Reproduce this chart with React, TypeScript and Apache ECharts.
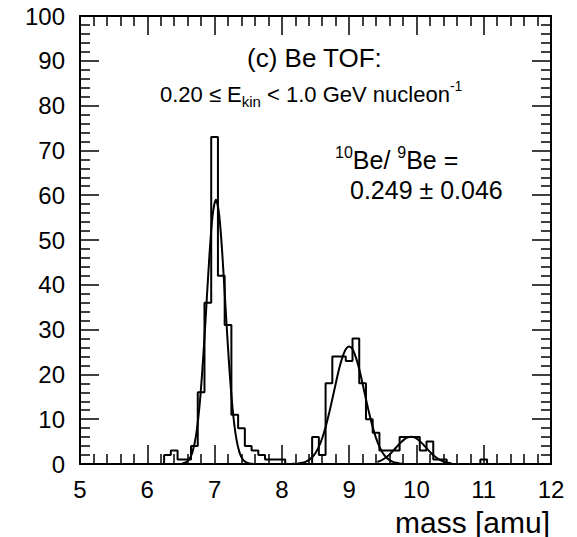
import React, { useEffect, useRef } from "react";
import * as echarts from "echarts";

// ---------------- data ----------------
const binWidth = 0.1;
const binCenters = [
  6.2, 6.3, 6.4, 6.5, 6.6, 6.7, 6.8, 6.9, 7.0, 7.1,
  7.2, 7.3, 7.4, 7.5, 7.6, 7.7, 7.8, 7.9, 8.0, 8.1,
  8.2, 8.3, 8.4, 8.5, 8.6, 8.7, 8.8, 8.9, 9.0, 9.1,
  9.2, 9.3, 9.4, 9.5, 9.6, 9.7, 9.8, 9.9, 10.0, 10.1,
  10.2, 10.3, 10.4, 10.5, 10.6, 10.7, 10.8, 10.9, 11.0, 11.1,
];
const counts = [
  0, 2, 3, 1, 1, 4, 16, 36, 73, 42,
  31, 11, 8, 4, 3, 2, 1, 1, 1, 0,
  0, 0, 0, 6, 2, 18, 24, 24, 23, 28,
  18, 10, 7, 3, 3, 3, 6, 6, 6, 3,
  5, 1, 1, 0, 0, 0, 0, 0, 1, 0,
];

// fitted curves
const fit7Mass = [
  6.52, 6.57, 6.62, 6.67, 6.72, 6.77, 6.82, 6.87, 6.92, 6.97, 7.02,
  7.07, 7.12, 7.17, 7.22, 7.27, 7.32, 7.37, 7.42, 7.47, 7.52, 7.57,
];
const fit7Value = [
  0.1, 0.34, 1.0, 2.59, 5.94, 12.0, 21.3, 33.2, 45.7, 55.4, 59.0,
  55.4, 45.7, 33.2, 21.3, 12.0, 5.94, 2.59, 1.0, 0.34, 0.1, 0.03,
];
const fit9Mass = [
  8.15, 8.2, 8.25, 8.3, 8.35, 8.4, 8.45, 8.5, 8.55, 8.6, 8.65, 8.7, 8.75, 8.8, 8.85, 8.9, 8.95,
  9.0, 9.05, 9.1, 9.15, 9.2, 9.25, 9.3, 9.35, 9.4, 9.45, 9.5, 9.55, 9.6, 9.65, 9.7, 9.75, 9.8,
];
const fit9Value = [
  0.03, 0.06, 0.13, 0.26, 0.48, 0.87, 1.5, 2.47, 3.86, 5.77, 8.23, 11.2, 14.5, 17.9, 21.2, 23.8, 25.6,
  26.2, 25.6, 23.8, 21.2, 17.9, 14.5, 11.2, 8.23, 5.77, 3.86, 2.47, 1.5, 0.87, 0.48, 0.26, 0.13, 0.06,
];
const fit10Mass = [
  9.42, 9.47, 9.52, 9.57, 9.62, 9.67, 9.72, 9.77, 9.82, 9.87, 9.92,
  9.97, 10.02, 10.07, 10.12, 10.17, 10.22, 10.27, 10.32, 10.37, 10.42, 10.47, 10.52,
];
const fit10Value = [
  0.46, 0.75, 1.17, 1.72, 2.41, 3.2, 4.04, 4.83, 5.5, 5.94, 6.1,
  5.94, 5.5, 4.83, 4.04, 3.2, 2.41, 1.72, 1.17, 0.75, 0.46, 0.27, 0.15,
];

const xMin = 5;
const xMax = 12;
const xStep = 1;
const yMin = 0;
const yMax = 100;
const yStep = 10;

// ---------------- helpers ----------------
const FONT = "'Liberation Sans', Arial, Helvetica, sans-serif";

function outline(centers: number[], values: number[], w: number) {
  const pts: number[][] = [];
  centers.forEach((c, i) => {
    const lo = Math.round((c - w / 2) * 1000) / 1000;
    const hi = Math.round((c + w / 2) * 1000) / 1000;
    pts.push([lo, values[i]]);
    pts.push([hi, values[i]]);
  });
  return pts;
}

function zip(xs: number[], ys: number[]) {
  return xs.map((x, i) => [x, ys[i]]);
}

const axisBase = {
  type: "value" as const,
  axisLine: { show: true, onZero: false, lineStyle: { color: "#000", width: 2 } },
  axisTick: { show: true, inside: true, length: 19, lineStyle: { color: "#000", width: 1.5 } },
  minorTick: { show: true, splitNumber: 5, length: 10, lineStyle: { color: "#000", width: 1.5 } },
  splitLine: { show: false },
  minorSplitLine: { show: false },
};

const lineStyle = { color: "#000", width: 2 };

export default function App() {
  const ref = useRef<HTMLDivElement>(null);

  useEffect(() => {
    if (!ref.current) return;
    const chart = echarts.init(ref.current, null, { renderer: "svg" });
    const option: any = {
      animation: false,
      backgroundColor: "#fff",
      grid: { left: 80, right: 26, top: 16, bottom: 73, containLabel: false },
      xAxis: [
        {
          ...axisBase,
          position: "bottom",
          min: xMin,
          max: xMax,
          interval: xStep,
          axisLabel: { show: true, color: "#000", fontSize: 24, fontFamily: FONT, margin: 13 },
        },
        {
          ...axisBase,
          position: "top",
          min: xMin,
          max: xMax,
          interval: xStep,
          axisLabel: { show: false },
        },
      ],
      yAxis: [
        {
          ...axisBase,
          position: "left",
          min: yMin,
          max: yMax,
          interval: yStep,
          axisLabel: { show: true, color: "#000", fontSize: 24, fontFamily: FONT, margin: 15 },
        },
        {
          ...axisBase,
          position: "right",
          min: yMin,
          max: yMax,
          interval: yStep,
          axisLabel: { show: false },
        },
      ],
      series: [
        {
          type: "line",
          xAxisIndex: 0,
          yAxisIndex: 0,
          data: outline(binCenters, counts, binWidth),
          symbol: "none",
          lineStyle,
          z: 3,
        },
        {
          type: "line",
          data: zip(fit7Mass, fit7Value),
          symbol: "none",
          smooth: 0.3,
          lineStyle,
          z: 4,
        },
        {
          type: "line",
          data: zip(fit9Mass, fit9Value),
          symbol: "none",
          smooth: 0.3,
          lineStyle,
          z: 4,
        },
        {
          type: "line",
          data: zip(fit10Mass, fit10Value),
          symbol: "none",
          smooth: 0.3,
          lineStyle,
          z: 4,
        },
      ],
      graphic: [
        {
          type: "text",
          x: 247,
          y: 58,
          style: {
            text: "(c) Be TOF:",
            font: `26px ${FONT}`,
            fill: "#000",
            textAlign: "left",
            textVerticalAlign: "middle",
          },
        },
        {
          type: "text",
          x: 160,
          y: 94,
          style: {
            text: "{m|0.20 ≤ E}{sub|kin}{m| < 1.0 GeV nucleon}{sup|-1}",
            fill: "#000",
            textAlign: "left",
            textVerticalAlign: "middle",
            rich: {
              m: { fontSize: 22, fontFamily: FONT, lineHeight: 30, fill: "#000" },
              sub: { fontSize: 15, fontFamily: FONT, lineHeight: 15, verticalAlign: "bottom", fill: "#000" },
              sup: { fontSize: 14, fontFamily: FONT, lineHeight: 14, verticalAlign: "top", fill: "#000" },
            },
          },
        },
        {
          type: "text",
          x: 335,
          y: 160,
          style: {
            text: "{sup|10}{m|Be/ }{sup|9}{m|Be =}",
            fill: "#000",
            textAlign: "left",
            textVerticalAlign: "middle",
            rich: {
              m: { fontSize: 25, fontFamily: FONT, lineHeight: 32, fill: "#000" },
              sup: { fontSize: 16, fontFamily: FONT, lineHeight: 16, verticalAlign: "top", fill: "#000" },
            },
          },
        },
        {
          type: "text",
          x: 350,
          y: 190,
          style: {
            text: "0.249 ± 0.046",
            font: `25px ${FONT}`,
            fill: "#000",
            textAlign: "left",
            textVerticalAlign: "middle",
          },
        },
        {
          type: "text",
          x: 550,
          y: 522,
          style: {
            text: "mass [amu]",
            font: `30px ${FONT}`,
            fill: "#000",
            textAlign: "right",
            textVerticalAlign: "middle",
          },
        },
      ],
    };
    chart.setOption(option);
    return () => chart.dispose();
  }, []);

  return (
    <div
      ref={ref}
      style={{ position: "absolute", left: 0, top: 0, width: 577, height: 537, background: "#fff" }}
    />
  );
}
